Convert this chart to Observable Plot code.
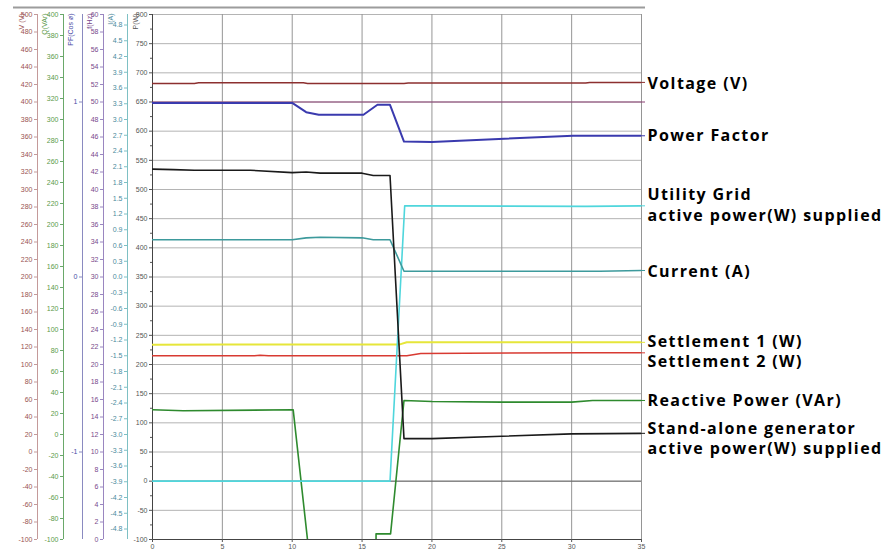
<!DOCTYPE html>
<html>
<head>
<meta charset="utf-8">
<script src="https://cdn.jsdelivr.net/npm/d3@7"></script>
<script src="https://cdn.jsdelivr.net/npm/@observablehq/plot@0.6"></script>
<style>
  html, body { margin: 0; padding: 0; background: #fff; }
  #chart { width: 894px; height: 557px; }
  g[font-size="16"][font-weight="bold"] text { letter-spacing: 1.4px; }
</style>
</head>
<body>
<div id="chart"></div>
<script>
// ---------- data (time in s, values in each series' own unit) ----------
const xTicks = [0, 5, 10, 15, 20, 25, 30, 35];

const tVoltage = [0, 3, 3.3, 10.8, 11.1, 18, 18.3, 31, 31.3, 35];
const voltage  = [421.2, 421.2, 422.0, 422.0, 421.2, 421.2, 421.6, 421.6, 422.4, 422.4];

const tFreq = [0, 35];
const freq  = [50, 50];

const tPF = [0, 10, 11, 11.9, 15.1, 16.1, 17, 18, 20, 30.1, 35];
const pf  = [0.995, 0.995, 0.942, 0.927, 0.927, 0.984, 0.984, 0.774, 0.772, 0.807, 0.807];

const tGen = [0, 1.5, 3, 7, 10, 11, 12, 15, 15.8, 17, 18, 20, 25, 30, 35];
const genPower = [535, 534, 533, 533, 529, 530, 528, 528, 524, 524, 73, 73, 77, 81, 82];

const tGrid = [0, 17, 18.05, 19, 31, 35];
const gridPower = [0, 0, 472, 472, 471, 472];

const tCurrent = [0, 10, 11, 12, 15, 15.8, 17, 18, 32, 35];
const current  = [0.71, 0.71, 0.746, 0.758, 0.746, 0.71, 0.71, 0.11, 0.11, 0.124];

const tSet1 = [0, 5, 17.7, 18.2, 35];
const settlement1 = [234, 234.5, 234.5, 238, 238];

const tSet2 = [0, 7.3, 7.7, 8.3, 18.2, 19.2, 31, 35];
const settlement2 = [215, 215, 216, 215, 215, 219, 220, 220];

const tReactive = [0, 2.2, 10.07, 11.3, 16.0, 16.0, 17.04, 18.0, 20, 25, 30, 31.5, 35];
const reactive  = [23.5, 22.6, 23.5, -125, -125, -94.6, -94.6, 32.4, 31.4, 30.8, 30.8, 32.4, 32.4];

// axis tick values (own units)
const pTicks  = d3.range(-100, 801, 50);
const pMinor  = d3.range(-75, 800, 50);
const vTicks  = d3.range(-100, 501, 20);
const qTicks  = d3.range(-100, 401, 20);
const pfTicks = [-1, 0, 1];
const fTicks  = d3.range(0, 61, 2);
const iTicks  = d3.range(-16, 17).map(k => k * 0.3);

// axis domains
const pDomain  = [-100, 800];
const vDomain  = [-100, 500];
const qDomain  = [-100, 400];
const pfDomain = [-1.5, 1.5];
const fDomain  = [0, 60];
const iDomain  = [-5, 5];

// labels
const axisTitles = ["V (V)", "Q(VAr)", "PF(Cos ø)", "f(Hz)", "I(A)", "P(W)"];

// ---------- scales mapping each unit onto the shared P(W) scale ----------
const toP = d => d3.scaleLinear(d, pDomain);
const sV = toP(vDomain), sQ = toP(qDomain), sPF = toP(pfDomain), sF = toP(fDomain), sI = toP(iDomain), sP = toP(pDomain);

const hyphen = s => String(s).replace("\u2212", "-");
const fmtInt = v => hyphen(d3.format("d")(v));
const fmt1 = v => hyphen(d3.format(".1f")(v));

const series = [
  {name: "Settlement 1 (W)", t: tSet1, v: settlement1, s: sP, color: "#e6e63a", w: 2, dy: -2},
  {name: "Settlement 2 (W)", t: tSet2, v: settlement2, s: sP, color: "#d83a32", w: 1.5, dy: 8},
  {name: "Reactive Power (VAr)", t: tReactive, v: reactive, s: sQ, color: "#2e8a2e", w: 1.6, dy: -1},
  {name: "Utility Grid\nactive power(W) supplied", t: tGrid, v: gridPower, s: sP, color: "#4fd6dc", w: 1.6, dy: -2},
  {name: "Current (A)", t: tCurrent, v: current, s: sI, color: "#3d9a9c", w: 1.6, dy: 0},
  {name: "Stand-alone generator\nactive power(W) supplied", t: tGen, v: genPower, s: sP, color: "#1a1a1a", w: 1.6, dy: 4},
  {name: null, t: tFreq, v: freq, s: sF, color: "#8a3f72", w: 1.2, dy: 0},
  {name: "Power Factor", t: tPF, v: pf, s: sPF, color: "#3a3aae", w: 2, dy: -1},
  {name: "Voltage (V)", t: tVoltage, v: voltage, s: sV, color: "#8c2f2f", w: 1.5, dy: 0}
];

const axes = [
  {ticks: vTicks,  s: sV,  dx: -115, text: "#9a5252", line: "#c49a9a", fmt: fmtInt, title: axisTitles[0], tdx: -133},
  {ticks: qTicks,  s: sQ,  dx: -89,  text: "#5c9a4a", line: "#6aa86a", fmt: fmtInt, title: axisTitles[1], tdx: -110},
  {ticks: pfTicks, s: sPF, dx: -70,  text: "#4a4aa6", line: "#8a8ac0", fmt: fmtInt, title: axisTitles[2], tdx: -84},
  {ticks: fTicks,  s: sF,  dx: -49,  text: "#7a4a8c", line: "#9a86c0", fmt: fmtInt, title: axisTitles[3], tdx: -65},
  {ticks: iTicks,  s: sI,  dx: -25,  text: "#4a8a9c", line: "#7ec0c4", fmt: fmt1, title: axisTitles[4], tdx: -44}
];

const fontSmall = 7;
const marks = [];

// grid
marks.push(Plot.gridY(pTicks, {stroke: "#b4b4b4", strokeOpacity: 1}));
marks.push(Plot.gridX(xTicks, {stroke: "#959595", strokeOpacity: 1}));
marks.push(Plot.ruleY([0], {stroke: "#666"}));
marks.push(Plot.ruleY([pDomain[0]], {stroke: "#444"}));
marks.push(Plot.ruleX([0], {stroke: "#444"}));
// top frame line
marks.push(Plot.ruleY([pDomain[1]], {dy: -7, insetLeft: -139, insetRight: -4, stroke: "#9c9c9c", strokeWidth: 2}));

// x axis
marks.push(Plot.axisX(xTicks, {tickSize: 3, tickPadding: 2, fontSize: fontSmall, color: "#555", label: null, tickFormat: d => String(d)}));

// P axis
marks.push(Plot.axisY(pTicks, {anchor: "left", tickSize: 3, tickPadding: 2, fontSize: fontSmall, color: "#555", label: null, tickFormat: d => String(d)}));
marks.push(Plot.axisY(pMinor, {anchor: "left", tickSize: 2, stroke: "#555", fill: "none", label: null}));
marks.push(Plot.text([axisTitles[5]], {text: d => d, frameAnchor: "top-left", dx: -19, dy: -1, rotate: -90, textAnchor: "end", fontSize: fontSmall, fill: "#555"}));

// other axes
for (const a of axes) {
  marks.push(Plot.ruleX([0], {dx: a.dx, stroke: a.line}));
  marks.push(Plot.axisY(a.ticks.map(a.s), {
    anchor: "left", dx: a.dx, tickSize: 3, tickPadding: 2, fontSize: fontSmall,
    stroke: a.line, fill: a.text, label: null,
    tickFormat: p => a.fmt(+a.s.invert(p).toFixed(6))
  }));
  marks.push(Plot.text([a.title], {text: d => d, frameAnchor: "top-left", dx: a.tdx, dy: -1, rotate: -90, textAnchor: "end", fontSize: fontSmall, fill: a.text}));
}

// series lines
for (const sr of series) {
  const pts = d3.zip(sr.t, sr.v);
  marks.push(Plot.line(pts, {x: d => d[0], y: d => sr.s(d[1]), stroke: sr.color, strokeWidth: sr.w, clip: true}));
}

// end markers and labels on the right
for (const sr of series) {
  const last = sr.s(sr.v[sr.v.length - 1]);
  marks.push(Plot.ruleY([last], {x1: 35, x2: 35, insetRight: -4, stroke: sr.color}));
  if (sr.name) {
    marks.push(Plot.text([sr.name], {
      text: d => d, x: 35, y: last, dx: 6, dy: sr.dy, textAnchor: "start",
      fontFamily: "'Open Sans', sans-serif", fontWeight: "bold", fontSize: 16, lineHeight: 1.27, fill: "#000"
    }));
  }
}

const chart = Plot.plot({
  width: 894, height: 557,
  marginLeft: 152, marginRight: 253, marginTop: 14, marginBottom: 18,
  x: {domain: [0, 35], axis: null},
  y: {domain: pDomain, axis: null},
  style: {fontFamily: "'Liberation Sans', Arial, sans-serif", background: "#fff", overflow: "visible"},
  marks
});
document.getElementById("chart").appendChild(chart);
</script>
</body>
</html>
